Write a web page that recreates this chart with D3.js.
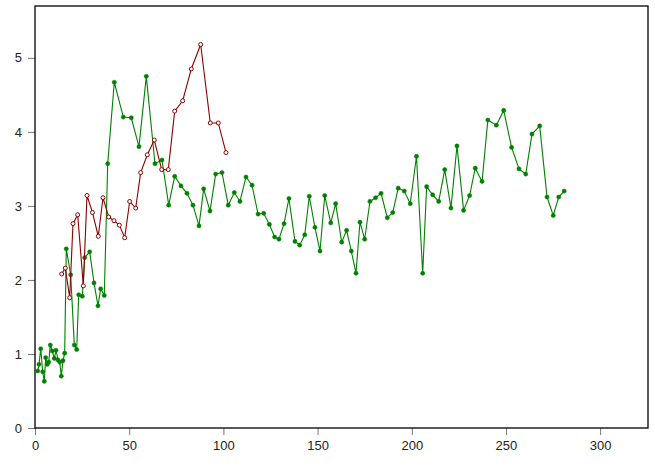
<!DOCTYPE html>
<html>
<head>
<meta charset="utf-8">
<script src="https://cdn.jsdelivr.net/npm/d3@7"></script>
<style>
  html, body { margin: 0; padding: 0; background: #fff; }
  svg { display: block; }
  .tick text { font-family: "Liberation Sans", Arial, sans-serif; font-size: 13px; fill: #222; }
</style>
</head>
<body>
<svg id="chart" width="655" height="466"></svg>
<script>
// Green series (filled markers)
const greenX = [1.43, 2.12, 3.03, 4.09, 4.94, 5.68, 6.53, 7.27, 8.12, 9.18,
  10.24, 11.15, 12.21, 13.11, 13.96, 14.86, 15.76, 16.61, 18.95, 20.86,
  22.13, 23.20, 25.11, 26.38, 29.03, 31.32, 33.44, 34.87, 36.78, 38.59,
  42.09, 46.87, 51.11, 55.20, 59.08, 63.69, 67.41, 70.97, 74.15, 77.49,
  80.68, 83.86, 87.05, 89.54, 92.89, 95.91, 99.26, 102.6, 105.8, 108.8,
  112.0, 115.2, 118.4, 121.4, 124.4, 127.2, 129.5, 132.2, 134.8, 138.0,
  140.5, 143.2, 145.6, 148.6, 151.3, 153.8, 157.0, 159.6, 162.8, 165.4,
  167.9, 170.4, 172.5, 175.0, 177.8, 180.8, 183.7, 187.0, 189.9, 192.8,
  196.0, 199.2, 202.5, 205.8, 207.9, 211.1, 214.3, 217.5, 220.8, 224.0,
  227.5, 230.7, 233.7, 237.3, 240.4, 244.9, 248.8, 253.0, 256.9, 260.5,
  263.8, 267.9, 271.8, 275.1, 278.0, 280.9];
const greenY = [0.77, 0.86, 1.07, 0.76, 0.63, 0.95, 0.86, 0.89, 1.12, 1.04,
  0.94, 1.05, 0.92, 0.89, 0.70, 0.91, 1.01, 2.42, 2.07, 1.12,
  1.06, 1.80, 1.78, 2.30, 2.38, 1.96, 1.65, 1.88, 1.79, 3.57,
  4.67, 4.20, 4.19, 3.80, 4.75, 3.57, 3.62, 3.01, 3.40, 3.27,
  3.17, 3.01, 2.73, 3.23, 2.93, 3.43, 3.45, 3.01, 3.18, 3.06,
  3.39, 3.28, 2.89, 2.90, 2.75, 2.58, 2.55, 2.76, 3.10, 2.52,
  2.47, 2.61, 3.13, 2.71, 2.39, 3.14, 2.77, 3.03, 2.51, 2.67,
  2.39, 2.09, 2.78, 2.55, 3.06, 3.11, 3.17, 2.84, 2.91, 3.24,
  3.20, 3.03, 3.67, 2.09, 3.26, 3.15, 3.06, 3.49, 2.97, 3.81,
  2.94, 3.14, 3.51, 3.33, 4.16, 4.09, 4.29, 3.79, 3.50, 3.43,
  3.97, 4.08, 3.12, 2.87, 3.12, 3.20];

// Dark red series (open markers)
const redX = [14.17, 16.08, 18.42, 20.17, 22.66, 25.64, 27.60, 30.52, 33.60, 36.09,
  39.12, 41.93, 44.75, 47.61, 50.27, 53.45, 56.10, 59.61, 63.32, 67.25,
  70.75, 74.15, 78.40, 82.96, 87.95, 93.05, 97.29, 101.38];
const redY = [2.08, 2.16, 1.76, 2.76, 2.88, 1.92, 3.14, 2.91, 2.59, 3.11,
  2.85, 2.80, 2.74, 2.57, 3.06, 2.97, 3.45, 3.69, 3.89, 3.49,
  3.49, 4.28, 4.42, 4.85, 5.18, 4.12, 4.12, 3.72];

const xTicks = [0, 50, 100, 150, 200, 250, 300];
const yTicks = [0, 1, 2, 3, 4, 5];

const W = 655, H = 466;
const margin = {top: 6, right: 7, bottom: 38, left: 35};
const svg = d3.select("#chart");

const x = d3.scaleLinear().domain([0, 325.4]).range([margin.left, W - margin.right]);
const y = d3.scaleLinear().domain([0, 5.7]).range([H - margin.bottom, margin.top]);

// axes
const xAxis = svg.append("g")
  .attr("transform", `translate(0,${H - margin.bottom})`)
  .call(d3.axisBottom(x).tickValues(xTicks).tickSize(7).tickPadding(6).tickFormat(d3.format("d")));
const yAxis = svg.append("g")
  .attr("transform", `translate(${margin.left},0)`)
  .call(d3.axisLeft(y).tickValues(yTicks).tickSize(7).tickPadding(6).tickFormat(d3.format("d")));
[xAxis, yAxis].forEach(g => {
  g.select(".domain").remove();
  g.selectAll(".tick line").attr("stroke", "#777");
});

// frame
svg.append("rect")
  .attr("x", margin.left).attr("y", margin.top)
  .attr("width", W - margin.left - margin.right)
  .attr("height", H - margin.top - margin.bottom)
  .attr("fill", "none").attr("stroke", "#000").attr("stroke-width", 1.3);

function drawSeries(xs, ys, color, open) {
  const pts = xs.map((v, i) => [v, ys[i]]);
  svg.append("path")
    .datum(pts)
    .attr("fill", "none")
    .attr("stroke", color)
    .attr("stroke-width", 1.1)
    .attr("d", d3.line().x(d => x(d[0])).y(d => y(d[1])));
  svg.append("g").selectAll("circle")
    .data(pts).enter().append("circle")
    .attr("cx", d => x(d[0])).attr("cy", d => y(d[1]))
    .attr("r", open ? 2 : 2.1)
    .attr("fill", open ? "#fff" : color)
    .attr("stroke", color)
    .attr("stroke-width", open ? 1 : 0.5);
}

drawSeries(greenX, greenY, "#008000", false);
drawSeries(redX, redY, "#8b0000", true);
</script>
</body>
</html>
